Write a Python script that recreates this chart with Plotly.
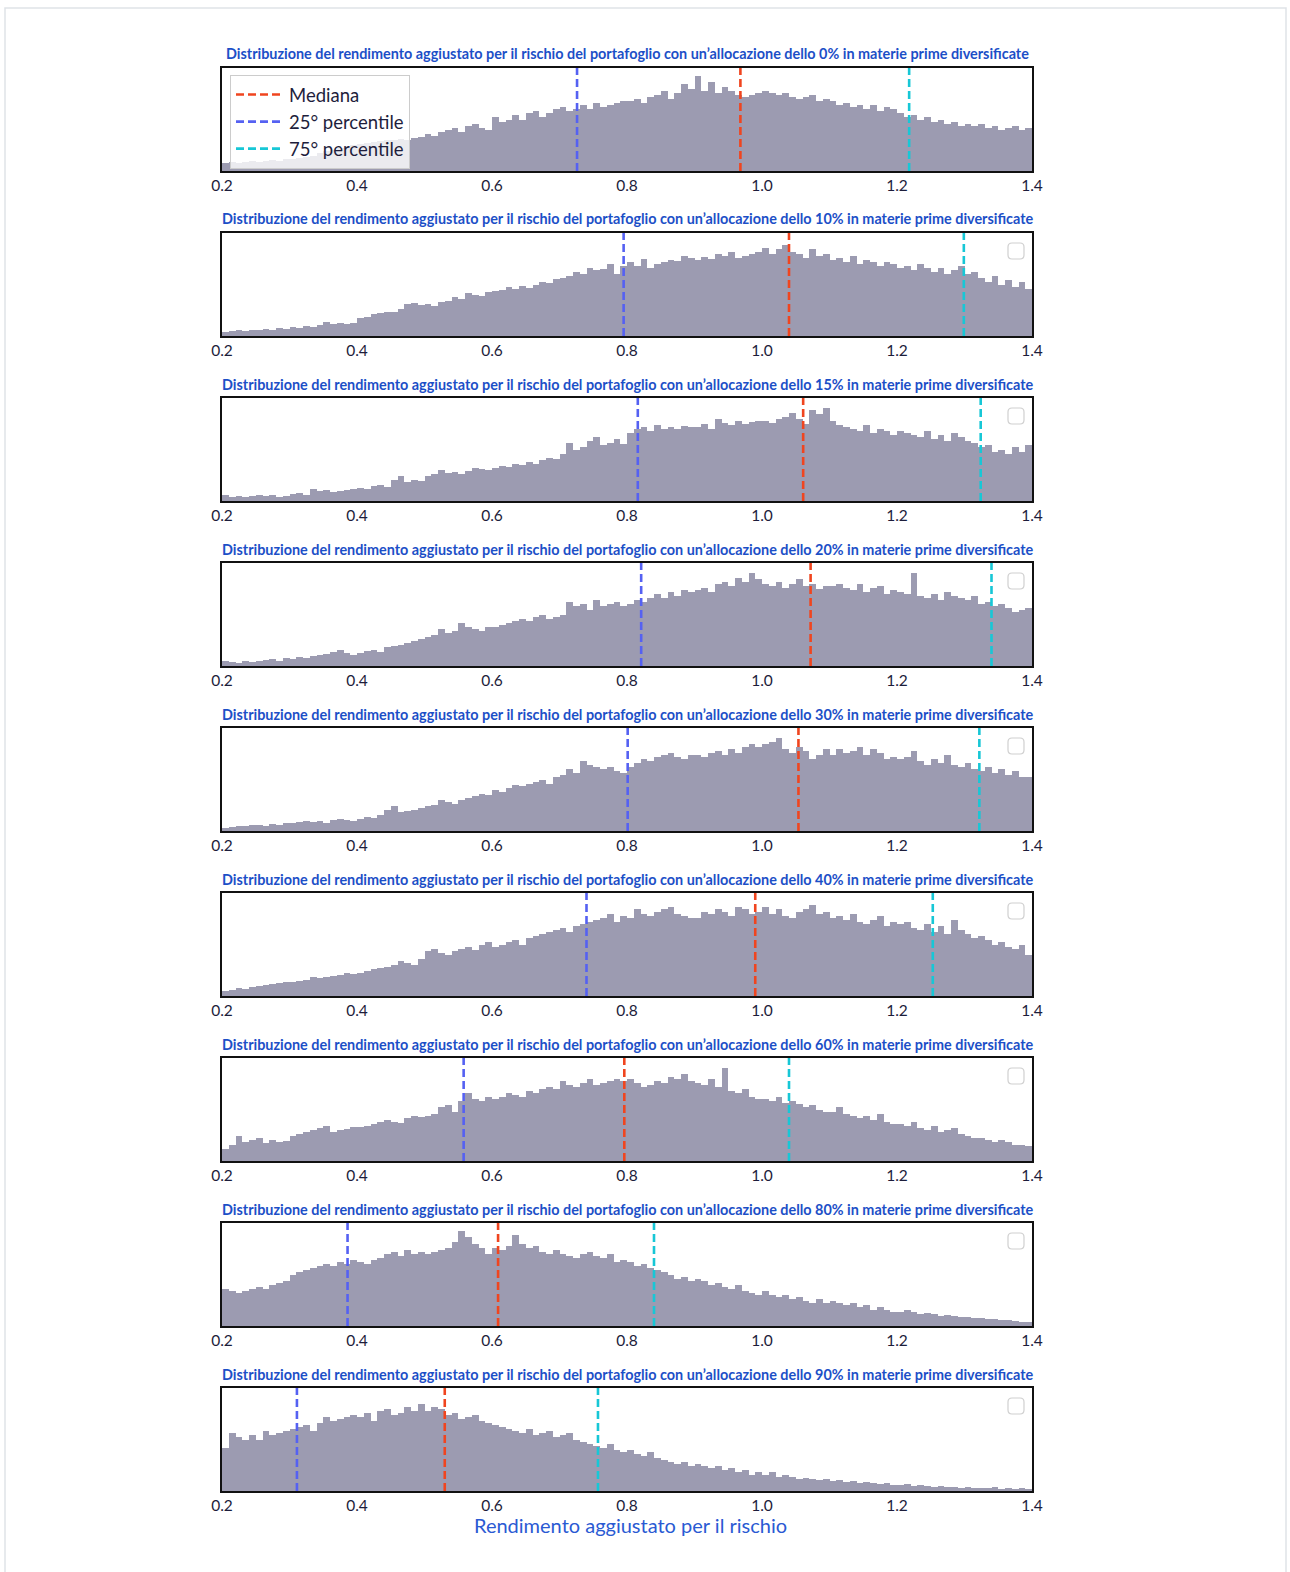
import plotly.graph_objects as go

# ---------------- data ----------------
bin_start = 0.2
bin_width = 0.01
allocations = ["0%", "10%", "15%", "20%", "30%", "40%", "60%", "80%", "90%"]
x_ticks = [0.2, 0.4, 0.6, 0.8, 1.0, 1.2, 1.4]

# relative frequency per 0.01 bin (share of the panel height), 0.20 .. 1.40
freq_0 = [8, 9, 8, 9, 10, 9, 10, 11, 10, 12,
          12, 13, 14, 15, 17, 19, 20, 22, 23, 25,
          26, 27, 28, 29, 30, 30, 31, 30, 32, 33,
          36, 34, 38, 40, 42, 38, 44, 46, 42, 40,
          52, 48, 50, 54, 50, 56, 58, 52, 56, 60,
          62, 58, 60, 64, 60, 66, 62, 64, 66, 68,
          68, 70, 66, 72, 74, 78, 70, 76, 84, 80,
          92, 78, 86, 76, 82, 78, 74, 72, 74, 76,
          78, 76, 74, 76, 72, 70, 72, 74, 68, 70,
          68, 64, 66, 62, 64, 60, 64, 58, 62, 60,
          56, 52, 54, 50, 52, 48, 50, 46, 48, 44,
          46, 44, 46, 42, 44, 40, 42, 44, 40, 42]
freq_10 = [4, 5, 6, 5, 6, 6, 7, 6, 8, 7,
           9, 8, 10, 9, 11, 14, 12, 13, 12, 13,
           17, 18, 21, 22, 23, 23, 26, 31, 32, 30,
           31, 29, 33, 34, 38, 36, 42, 40, 39, 43,
           44, 45, 48, 46, 49, 47, 50, 52, 51, 55,
           56, 58, 62, 60, 66, 64, 65, 70, 60, 68,
           72, 68, 75, 66, 70, 72, 74, 73, 78, 76,
           74, 77, 75, 80, 78, 82, 76, 78, 80, 82,
           85, 80, 84, 88, 82, 80, 76, 84, 78, 80,
           74, 76, 72, 78, 70, 74, 72, 68, 72, 70,
           66, 68, 64, 70, 66, 62, 66, 60, 64, 68,
           60, 62, 56, 52, 58, 50, 54, 48, 52, 46]
freq_15 = [6, 4, 5, 4, 5, 6, 5, 6, 4, 5,
           7, 8, 6, 12, 10, 11, 9, 10, 11, 12,
           13, 12, 15, 16, 14, 20, 24, 18, 20, 19,
           24, 26, 30, 27, 28, 26, 29, 32, 31, 30,
           32, 34, 33, 36, 35, 38, 36, 40, 42, 41,
           46, 56, 50, 52, 58, 62, 54, 56, 60, 55,
           66, 70, 72, 68, 74, 70, 72, 70, 73, 72,
           72, 75, 70, 80, 76, 74, 78, 75, 77, 78,
           78, 76, 80, 82, 85, 80, 75, 88, 84, 90,
           78, 74, 72, 70, 68, 74, 66, 70, 68, 64,
           68, 66, 64, 62, 68, 60, 64, 58, 66, 62,
           58, 56, 52, 54, 48, 50, 46, 52, 48, 54]
freq_20 = [5, 4, 3, 5, 4, 5, 6, 7, 5, 8,
           7, 9, 8, 10, 11, 12, 14, 16, 13, 11,
           13, 15, 16, 14, 18, 19, 20, 22, 24, 26,
           28, 30, 36, 32, 34, 42, 38, 36, 34, 38,
           38, 40, 42, 44, 46, 44, 48, 50, 46, 48,
           50, 62, 58, 60, 54, 64, 58, 60, 62, 58,
           60, 64, 62, 66, 70, 66, 72, 68, 74, 72,
           74, 76, 72, 80, 82, 78, 85, 82, 90, 84,
           80, 78, 82, 76, 80, 84, 78, 80, 75, 78,
           78, 80, 76, 74, 80, 72, 76, 78, 70, 74,
           72, 70, 90, 68, 66, 70, 64, 72, 68, 66,
           64, 68, 60, 62, 58, 60, 56, 52, 54, 56]
freq_30 = [3, 4, 5, 5, 6, 6, 5, 7, 6, 8,
           8, 9, 10, 9, 10, 8, 11, 12, 11, 10,
           12, 14, 13, 16, 20, 24, 18, 19, 20, 22,
           24, 25, 30, 28, 26, 30, 32, 34, 36, 35,
           40, 38, 42, 45, 44, 46, 48, 50, 46, 52,
           54, 60, 56, 68, 64, 62, 60, 62, 58, 56,
           62, 66, 70, 68, 72, 74, 76, 72, 70, 74,
           74, 72, 76, 78, 74, 80, 76, 82, 84, 82,
           84, 86, 90, 80, 76, 82, 78, 70, 74, 80,
           74, 80, 76, 78, 82, 74, 80, 76, 70, 72,
           70, 72, 78, 68, 64, 70, 66, 74, 64, 62,
           66, 60, 58, 62, 56, 60, 54, 58, 52, 52]
freq_40 = [5, 6, 8, 7, 9, 10, 11, 12, 13, 14,
           14, 15, 16, 18, 17, 18, 19, 20, 22, 21,
           22, 24, 26, 27, 28, 30, 34, 32, 30, 36,
           44, 46, 42, 40, 44, 46, 48, 45, 50, 52,
           48, 50, 52, 54, 50, 56, 58, 60, 62, 64,
           66, 62, 68, 70, 72, 74, 76, 80, 72, 78,
           76, 84, 80, 78, 82, 84, 86, 80, 78, 76,
           76, 82, 80, 84, 82, 78, 86, 84, 80, 82,
           86, 80, 84, 78, 76, 82, 84, 88, 80, 82,
           76, 78, 74, 80, 72, 70, 74, 78, 68, 72,
           70, 72, 66, 64, 70, 62, 68, 60, 74, 64,
           60, 56, 58, 54, 50, 52, 48, 46, 50, 40]
freq_60 = [12, 16, 24, 18, 20, 22, 17, 20, 18, 19,
           24, 26, 28, 30, 32, 34, 28, 30, 31, 33,
           33, 34, 36, 38, 40, 38, 37, 42, 44, 43,
           44, 46, 52, 54, 48, 58, 66, 60, 58, 62,
           60, 62, 66, 64, 62, 68, 66, 70, 72, 70,
           78, 74, 72, 76, 80, 74, 76, 78, 80, 78,
           80, 76, 72, 74, 78, 76, 82, 80, 84, 78,
           76, 74, 80, 72, 90, 68, 66, 70, 62, 60,
           60, 58, 62, 56, 58, 55, 52, 54, 50, 48,
           48, 52, 46, 44, 42, 44, 40, 46, 38, 36,
           36, 34, 38, 32, 30, 34, 28, 30, 32, 26,
           24, 22, 22, 20, 18, 20, 18, 16, 16, 15]
freq_80 = [36, 34, 32, 34, 36, 38, 36, 40, 42, 44,
           50, 52, 54, 56, 58, 60, 58, 62, 60, 64,
           62, 60, 64, 66, 70, 72, 68, 74, 70, 72,
           70, 72, 74, 76, 82, 92, 86, 80, 76, 70,
           76, 74, 78, 88, 80, 76, 78, 72, 70, 74,
           70, 68, 66, 70, 72, 68, 66, 70, 62, 64,
           62, 58, 60, 56, 54, 52, 50, 46, 48, 44,
           46, 44, 40, 42, 38, 36, 40, 34, 32, 30,
           34, 30, 28, 30, 26, 28, 24, 22, 26, 22,
           24, 22, 20, 22, 18, 20, 16, 18, 16, 14,
           14, 16, 14, 12, 13, 12, 10, 11, 10, 9,
           9, 8, 8, 7, 7, 6, 6, 5, 4, 4]
freq_90 = [42, 56, 52, 50, 54, 50, 58, 54, 56, 58,
           60, 62, 64, 58, 66, 72, 68, 70, 72, 74,
           72, 76, 68, 78, 80, 74, 76, 82, 78, 84,
           78, 82, 80, 74, 76, 70, 72, 74, 68, 66,
           64, 62, 60, 58, 56, 60, 54, 56, 58, 52,
           54, 56, 50, 48, 46, 44, 42, 46, 40, 38,
           40, 36, 34, 38, 32, 30, 28, 26, 28, 24,
           26, 24, 22, 24, 20, 22, 18, 20, 16, 18,
           16, 18, 14, 16, 14, 12, 13, 12, 11, 12,
           10, 11, 9, 10, 8, 9, 8, 7, 8, 6,
           6, 7, 5, 6, 5, 4, 5, 4, 4, 3,
           4, 3, 3, 3, 4, 2, 3, 2, 3, 2]

percentile_25 = [0.726, 0.795, 0.816, 0.821, 0.801, 0.740, 0.558, 0.386, 0.311]
median = [0.968, 1.040, 1.061, 1.072, 1.054, 0.990, 0.796, 0.609, 0.530]
percentile_75 = [1.218, 1.299, 1.324, 1.340, 1.322, 1.253, 1.040, 0.840, 0.757]

series = [freq_0, freq_10, freq_15, freq_20, freq_30, freq_40, freq_60, freq_80, freq_90]

# ---------------- styling / geometry ----------------
W, H = 1290, 1572
ML, MR, MT, MB = 222, 258, 68, 80
PW, PH = W - ML - MR, H - MT - MB
PANEL_H, PANEL_STEP = 103, 165
BAR_COLOR = "#9c9bb1"
C_MED, C_25, C_75 = "#f0451f", "#5561f2", "#17c7d6"
TITLE_COLOR = "#1c4fc7"
FONT = "Lato, 'Noto Sans', sans-serif"


def py(px):
    return 1 - (px - MT) / PH


def px_x(px):
    return (px - ML) / PW


def clamp(v):
    return min(1.0, max(0.0, v))


fig = go.Figure()
annotations = []
shapes = []

for k, (alloc, vals) in enumerate(zip(allocations, series)):
    n = k + 1
    xa = "x" if n == 1 else f"x{n}"
    ya = "y" if n == 1 else f"y{n}"
    centers = [bin_start + bin_width * (i + 0.5) for i in range(len(vals))]
    fig.add_trace(go.Bar(x=centers, y=vals, width=bin_width, marker=dict(color=BAR_COLOR, line=dict(width=0)),
                         xaxis=xa, yaxis=ya, showlegend=False, hoverinfo="x+y"))
    for val, col, name in [(median[k], C_MED, "Mediana"),
                           (percentile_25[k], C_25, "25° percentile"),
                           (percentile_75[k], C_75, "75° percentile")]:
        fig.add_trace(go.Scatter(x=[val, val], y=[0, 100], mode="lines",
                                 line=dict(color=col, width=2.6, dash="8px,4px"),
                                 name=name, showlegend=(n == 1), xaxis=xa, yaxis=ya, hoverinfo="skip"))
    top = MT + PANEL_STEP * k
    bot = top + PANEL_H
    dom = [clamp(py(bot)), clamp(py(top))]
    fig.layout[("xaxis" if n == 1 else f"xaxis{n}")] = dict(
        domain=[0, 1], anchor=ya, range=[0.2, 1.4], tickvals=x_ticks, tickformat=".1f",
        showline=True, mirror=True, linecolor="#111111", linewidth=1.5, showgrid=False, zeroline=False,
        ticks="",
        tickfont=dict(family=FONT, size=15.5, color="#1d1d3b"))
    fig.layout[("yaxis" if n == 1 else f"yaxis{n}")] = dict(
        domain=dom, anchor=xa, range=[0, 100], showticklabels=False, showgrid=False, zeroline=False,
        showline=True, mirror=True, linecolor="#111111", linewidth=1.5, ticks="")
    annotations.append(dict(
        text=f"<b>Distribuzione del rendimento aggiustato per il rischio del portafoglio con un’allocazione dello {alloc} in materie prime diversificate</b>",
        xref="paper", yref="paper", x=0.5, y=py(top - 14), xanchor="center", yanchor="middle",
        showarrow=False, font=dict(family=FONT, size=14.4, color=TITLE_COLOR)))
    if n > 1:
        shapes.append(dict(type="path", xref=f"{xa} domain", yref=f"{ya} domain",
                           xsizemode="pixel", ysizemode="pixel", xanchor=1, yanchor=1,
                           path="M -20 -10 L -12 -10 Q -8 -10 -8 -14 L -8 -22 Q -8 -26 -12 -26 "
                                "L -20 -26 Q -24 -26 -24 -22 L -24 -14 Q -24 -10 -20 -10 Z",
                           line=dict(color="#d0d0d0", width=1.2), fillcolor="rgba(255,255,255,0)"))

annotations.append(dict(text="Rendimento aggiustato per il rischio", xref="paper", yref="paper",
                        x=px_x(630), y=py(1525), xanchor="center", yanchor="middle", showarrow=False,
                        font=dict(family=FONT, size=20, color="#2a5ad3")))

# outer frame of the page
shapes.append(dict(type="rect", xref="paper", yref="paper", x0=px_x(5), x1=px_x(1286), y0=py(1600), y1=py(8),
                   line=dict(color="#dfe3e8", width=1.5), layer="below"))

fig.update_layout(
    width=W, height=H, margin=dict(l=ML, r=MR, t=MT, b=MB),
    paper_bgcolor="white", plot_bgcolor="white", bargap=0, barmode="overlay",
    annotations=annotations, shapes=shapes,
    legend=dict(x=px_x(230), y=py(75), xanchor="left", yanchor="top",
                bgcolor="rgba(255,255,255,0.8)", bordercolor="#cccccc", borderwidth=1,
                font=dict(family=FONT, size=18.5, color="#1e1e3c"), itemwidth=48),
)

fig.write_html("out.html", config={"displayModeBar": False},
               post_script="document.body.style.margin='0px';")
